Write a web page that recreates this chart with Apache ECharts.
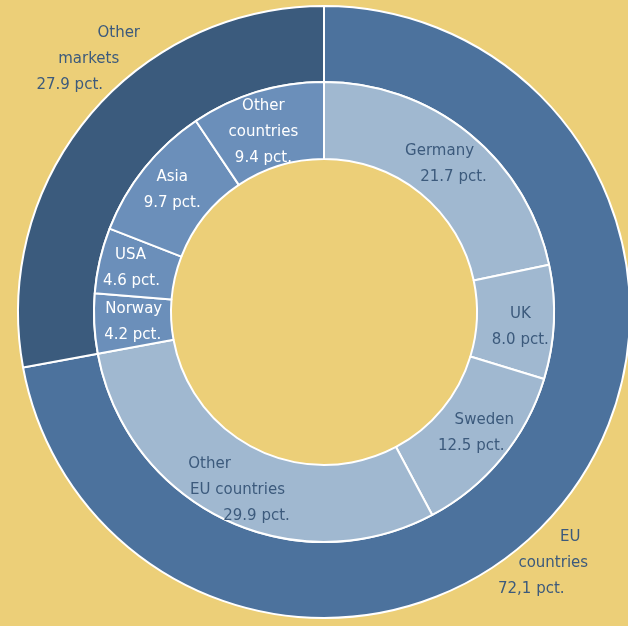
<!DOCTYPE html>
<html>
<head>
<meta charset="utf-8">
<script src="https://cdn.jsdelivr.net/npm/echarts@6/dist/echarts.min.js"></script>
<style>
  html, body { margin: 0; padding: 0; background: #ECCF78; }
  #chart { width: 628px; height: 626px; }
</style>
</head>
<body>
<div id="chart"></div>
<script>
// Outer ring: market split
const regionNames = ['EU countries', 'Other markets'];
const regionValues = [72.1, 27.9];
const regionValueText = ['72,1', '27.9'];
const regionLines = [['EU', 'countries'], ['Other', 'markets']];

// Inner ring: countries
const countryNames = ['Germany', 'UK', 'Sweden', 'Other EU countries', 'Norway', 'USA', 'Asia', 'Other countries'];
const countryValues = [21.7, 8.0, 12.5, 29.9, 4.2, 4.6, 9.7, 9.4];
const countryValueText = ['21.7', '8.0', '12.5', '29.9', '4.2', '4.6', '9.7', '9.4'];
const countryLines = [['Germany'], ['UK'], ['Sweden'], ['Other', 'EU countries'], ['Norway'], ['USA'], ['Asia'], ['Other', 'countries']];

// ── Styling ──────────────────────────────────────────────────────────────
const BG = '#ECCF78';
const DARK_TEXT = '#3C5A7C';
const REGION_COLORS = ['#4C729D', '#3B5B7D'];
const COUNTRY_COLORS = ['#A0B8D0', '#A0B8D0', '#A0B8D0', '#A0B8D0', '#6B8FBA', '#6B8FBA', '#6B8FBA', '#6B8FBA'];
const COUNTRY_TEXT = [DARK_TEXT, DARK_TEXT, DARK_TEXT, DARK_TEXT, '#ffffff', '#ffffff', '#ffffff', '#ffffff'];

// per-line horizontal shift (px) to mimic the staggered hand-placed labels
const regionShift = [[19, 2, -20], [25, -5, -24]];
const regionOffset = [[19, 78], [-22, -79]];
const countryShift = [[-7, 7], [0, 0], [8, -5], [-28, 0, 19], [1, 0], [0, 1], [0, 0], [0, 0, 0]];
const countryOffset = [[0, 3], [2, 7], [2, -2], [-2, 3], [3, 0], [-4, 0], [0, 0], [-4, 6]];

const FONT = 'DejaVu Sans';

function buildLabel(lines, valueText, shifts, color, offset) {
  const all = lines.concat([valueText + ' pct.']);
  const rich = {};
  const parts = all.map((t, i) => {
    const s = shifts[i] || 0;
    rich['l' + i] = {
      fontFamily: FONT,
      fontSize: 15,
      lineHeight: 26,
      color,
      padding: [0, s < 0 ? -2 * s : 0, 0, s > 0 ? 2 * s : 0]
    };
    return '{l' + i + '|' + t + '}';
  });
  return {
    show: true,
    position: 'inside',
    formatter: parts.join('\n'),
    rich,
    offset,
    align: 'center'
  };
}

const regionData = regionNames.map((name, i) => ({
  name,
  value: regionValues[i],
  itemStyle: { color: REGION_COLORS[i] },
  label: buildLabel(regionLines[i], regionValueText[i], regionShift[i], DARK_TEXT, regionOffset[i])
}));

const countryData = countryNames.map((name, i) => ({
  name,
  value: countryValues[i],
  itemStyle: { color: COUNTRY_COLORS[i] },
  label: buildLabel(countryLines[i], countryValueText[i], countryShift[i], COUNTRY_TEXT[i], countryOffset[i])
}));

const chart = echarts.init(document.getElementById('chart'), null, { renderer: 'canvas' });

chart.setOption({
  backgroundColor: BG,
  animation: false,
  series: [
    {
      type: 'pie',
      center: [324, 312],
      radius: [230, 306],
      startAngle: 90,
      clockwise: true,
      silent: true,
      avoidLabelOverlap: false,
      labelLine: { show: false },
      itemStyle: { borderColor: '#ffffff', borderWidth: 2 },
      data: regionData
    },
    {
      type: 'pie',
      center: [324, 312],
      radius: [153, 230],
      startAngle: 90,
      clockwise: true,
      silent: true,
      avoidLabelOverlap: false,
      labelLine: { show: false },
      itemStyle: { borderColor: '#ffffff', borderWidth: 2 },
      data: countryData
    }
  ]
});
</script>
</body>
</html>
